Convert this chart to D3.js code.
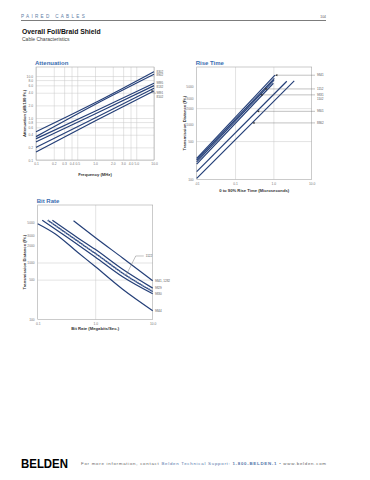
<!DOCTYPE html>
<html>
<head>
<meta charset="utf-8">
<script src="https://cdn.jsdelivr.net/npm/d3@7"></script>
<style>
body { margin: 0; background: #fff; }
text { font-family: "Liberation Sans", Arial, sans-serif; }
.lab text { fill: #777; font-size: 3.3px; }
.lab .domain { display: none; }
.grid line { stroke: #c8c8c8; stroke-width: 0.5; }
.grid .domain { display: none; }
</style>
</head>
<body>
<svg id="page" width="370" height="480"></svg>
<script>
// ---- attenuation (dB/100 ft vs MHz)
var attFreq = [0.1, 1, 10];
var attCables = ["8302", "8902", "9895", "8132", "9891", "8102"];
var attValues = [
  [0.47, 2.3, 12.7],
  [0.36, 2.1, 11.0],
  [0.32, 1.45, 6.7],
  [0.27, 1.25, 5.9],
  [0.20, 1.0, 5.1],
  [0.155, 0.85, 4.4]
];
var attXTicks = [0.1, 0.2, 0.3, 0.4, 0.5, 1, 2, 3, 4, 5, 10];
var attYTicks = [0.1, 0.2, 0.4, 0.6, 0.8, 1, 2, 4, 6, 8, 10];

// ---- rise time (ft vs microseconds), straight lines on log-log
var riseCables = ["9841", "1152", "9831", "1102", "9801", "8862"];
var riseTime = [[0.01, 1.1], [0.01, 1.06], [0.01, 1.04], [0.01, 1.0], [0.01, 2.24], [0.01, 3.5]];
var riseDist = [[242, 8000], [225, 7000], [209, 6500], [190, 5700], [138, 6200], [104, 6300]];
var riseLabelLines = [0, 1, 2, 4, 5];      // line each leader points at
var riseLabelTexts = ["9841", "1152", "9831\n1102", "9801", "8862"];
var riseAnchorT = [1.1, 0.58, 0.45, 0.37, 0.28];
var riseXTicks = [0.01, 0.1, 1, 10];
var riseYTicks = [100, 500, 1000, 2000, 3000, 5000];

// ---- bit rate (ft vs Mbit/s)
var bitCables = ["9841, 1282", "9829", "1122", "9830", "9844"];
var bitRate = [
  [0.42, 1, 3, 10],
  [0.18, 0.5, 1, 3, 10],
  [0.15, 0.5, 1, 3, 10],
  [0.12, 0.5, 1, 3, 10],
  [0.1, 0.2, 0.5, 1, 3, 10]
];
var bitDist = [
  [5400, 2750, 1200, 480],
  [5500, 2700, 1700, 760, 355],
  [5500, 2350, 1450, 650, 310],
  [5500, 2050, 1250, 560, 282],
  [4800, 3200, 1500, 850, 340, 143]
];
var bitXTicks = [0.1, 1, 10];
var bitYTicks = [100, 500, 1000, 2000, 3000, 5000];

var navy = "#243f78";
var svg = d3.select("#page");

// header
svg.append("text").attr("x", 21).attr("y", 17.5).text("PAIRED CABLES")
  .style("font-size", "4.6px").style("letter-spacing", "2.3px").attr("fill", "#5d7ea6");
svg.append("text").attr("x", 326).attr("y", 17.5).attr("text-anchor", "end").text("104")
  .style("font-size", "3.4px").attr("fill", "#555");
svg.append("line").attr("x1", 21).attr("x2", 326).attr("y1", 20.5).attr("y2", 20.5)
  .attr("stroke", "#444").attr("stroke-width", 0.7);
svg.append("text").attr("x", 22).attr("y", 34).text("Overall Foil/Braid Shield")
  .style("font-size", "6.8px").style("font-weight", "bold").attr("fill", "#111");
svg.append("text").attr("x", 22).attr("y", 41).text("Cable Characteristics")
  .style("font-size", "5px").attr("fill", "#444");

function panel(o) {
  var g = svg.append("g");
  var x = d3.scaleLog().domain(o.xDomain).range([o.left, o.right]);
  var y = d3.scaleLog().domain(o.yDomain).range([o.bottom, o.top]);

  g.append("g").attr("class", "grid").attr("transform", "translate(0," + o.bottom + ")")
    .call(d3.axisBottom(x).tickValues(o.xGrid).tickSize(o.top - o.bottom).tickFormat(""));
  g.append("g").attr("class", "grid").attr("transform", "translate(" + o.left + ",0)")
    .call(d3.axisLeft(y).tickValues(o.yGrid).tickSize(o.left - o.right).tickFormat(""));
  g.append("rect").attr("x", o.left).attr("y", o.top)
    .attr("width", o.right - o.left).attr("height", o.bottom - o.top)
    .attr("fill", "none").attr("stroke", "#a8a8a8").attr("stroke-width", 0.6);

  g.append("g").attr("class", "lab").attr("transform", "translate(0," + o.bottom + ")")
    .call(d3.axisBottom(x).tickValues(o.xTicks).tickFormat(o.xFmt).tickSize(0).tickPadding(3));
  g.append("g").attr("class", "lab").attr("transform", "translate(" + o.left + ",0)")
    .call(d3.axisLeft(y).tickValues(o.yTicks).tickFormat(o.yFmt).tickSize(0).tickPadding(3));

  g.append("text").attr("x", o.left - 1).attr("y", o.top - 2.5).text(o.title)
    .style("font-size", "6px").style("font-weight", "bold").attr("fill", "#3a6db0");
  g.append("text").attr("x", (o.left + o.right) / 2).attr("y", o.bottom + o.xTitleDy)
    .attr("text-anchor", "middle").text(o.xTitle)
    .style("font-size", "4.2px").style("font-weight", "bold").attr("fill", "#333");
  g.append("text")
    .attr("transform", "translate(" + (o.left - o.yTitleDx) + "," + (o.top + o.bottom) / 2 + ") rotate(-90)")
    .attr("text-anchor", "middle").text(o.yTitle)
    .style("font-size", "4.2px").style("font-weight", "bold").attr("fill", "#333");
  return { g: g, x: x, y: y, o: o };
}

// ---------- Attenuation
var att = panel({
  left: 36, right: 154, top: 67, bottom: 160,
  xDomain: [0.1, 10], yDomain: [0.1, 16.4],
  xGrid: attXTicks, yGrid: attYTicks, xTicks: attXTicks, yTicks: attYTicks,
  xFmt: d3.format(".1f"), yFmt: d3.format(".1f"),
  title: "Attenuation", xTitle: "Frequency (MHz)", yTitle: "Attenuation (dB/100 Ft.)",
  xTitleDy: 16, yTitleDx: 10
});
var attLine = d3.line()
  .x(function(d, i) { return att.x(attFreq[i]); })
  .y(function(d) { return att.y(d); })
  .curve(d3.curveMonotoneX);
att.g.selectAll(".att").data(attValues).enter().append("path")
  .attr("d", attLine).attr("fill", "none").attr("stroke", navy).attr("stroke-width", 1.2);

// right-hand labels, pushed apart so they never collide
var attLabY = attValues.map(function(d, i) { return att.y(d[2]) + (i < 4 ? 1 : 6); });
for (var i = 1; i < attLabY.length; i++) attLabY[i] = Math.max(attLabY[i], attLabY[i - 1] + 3.4);
att.g.selectAll(".attlab").data(attCables).enter().append("text")
  .attr("x", 156.5)
  .attr("y", function(d, i) { return attLabY[i]; })
  .text(function(d) { return d; })
  .style("font-size", "3px").attr("fill", "#555");
// leader arrow for the two lowest cables
var ay = attLabY[4] - 1, ty = att.y(4.9);
att.g.append("path")
  .attr("d", "M156," + ay + " Q151," + (ay - 0.5) + " " + att.x(9.2) + "," + (ty + 1.2))
  .attr("fill", "none").attr("stroke", "#555").attr("stroke-width", 0.4);
att.g.append("path")
  .attr("d", "M" + att.x(9.2) + "," + (ty + 0.6) + " l-0.6,2.2 l1.8,-0.9 z").attr("fill", "#333");

// ---------- Rise time
var rise = panel({
  left: 196.7, right: 311.7, top: 67, bottom: 179.3,
  xDomain: [0.01, 10], yDomain: [100, 11300],
  xGrid: [0.1, 1], yGrid: [500, 2000], xTicks: riseXTicks, yTicks: riseYTicks,
  xFmt: function(d) { return d === 0.01 ? ".01" : d3.format(".1f")(d); }, yFmt: d3.format("d"),
  title: "Rise Time", xTitle: "0 to 90% Rise Time (Microseconds)", yTitle: "Transmission Distance (Ft.)",
  xTitleDy: 13, yTitleDx: 10.5
});
rise.g.selectAll(".rl").data(riseDist).enter().append("line")
  .attr("x1", function(d, i) { return rise.x(riseTime[i][0]); })
  .attr("x2", function(d, i) { return rise.x(riseTime[i][1]); })
  .attr("y1", function(d) { return rise.y(d[0]); })
  .attr("y2", function(d) { return rise.y(d[1]); })
  .attr("stroke", navy).attr("stroke-width", 1.2);

function riseAt(li, t) {
  var t0 = Math.log10(riseTime[li][0]), t1 = Math.log10(riseTime[li][1]);
  var d0 = Math.log10(riseDist[li][0]), d1 = Math.log10(riseDist[li][1]);
  return Math.pow(10, d0 + (Math.log10(t) - t0) / (t1 - t0) * (d1 - d0));
}
riseLabelLines.forEach(function(li, k) {
  var px = rise.x(riseAnchorT[k]), py = rise.y(riseAt(li, riseAnchorT[k]));
  rise.g.append("line").attr("x1", px + 1).attr("x2", 315).attr("y1", py).attr("y2", py)
    .attr("stroke", "#666").attr("stroke-width", 0.4);
  rise.g.append("path")
    .attr("d", "M" + px + "," + py + " l2.4,-1.1 l0,2.2 z").attr("fill", "#333");
  riseLabelTexts[k].split("\n").forEach(function(s, j) {
    rise.g.append("text").attr("x", 317).attr("y", py + 1.1 + j * 3.8).text(s)
      .style("font-size", "3px").attr("fill", "#555");
  });
});

// ---------- Bit rate
var bit = panel({
  left: 37.7, right: 152.7, top: 205, bottom: 319.5,
  xDomain: [0.1, 10], yDomain: [100, 10200],
  xGrid: [1], yGrid: [500, 1000], xTicks: bitXTicks, yTicks: bitYTicks,
  xFmt: d3.format(".1f"), yFmt: d3.format("d"),
  title: "Bit Rate", xTitle: "Bit Rate (Megabits/Sec.)", yTitle: "Transmission Distance (Ft.)",
  xTitleDy: 10.5, yTitleDx: 12
});
var bitLine = d3.line()
  .x(function(d) { return bit.x(d[0]); })
  .y(function(d) { return bit.y(d[1]); })
  .curve(d3.curveMonotoneX);
var bitPts = bitRate.map(function(r, i) { return r.map(function(v, j) { return [v, bitDist[i][j]]; }); });
bit.g.selectAll(".bl").data(bitPts).enter().append("path")
  .attr("d", bitLine).attr("fill", "none").attr("stroke", navy).attr("stroke-width", 1.2);
// the dashed cable with cross marks
bit.g.append("path").datum(bitPts[2]).attr("d", bitLine).attr("fill", "none")
  .attr("stroke", "#6f86b3").attr("stroke-width", 2).attr("stroke-dasharray", "0.8,1.8");
bit.g.selectAll(".bitlab").data(bitPts).enter().filter(function(d, i) { return i !== 2; })
  .append("text").attr("x", 155)
  .attr("y", function(d) { return bit.y(d[d.length - 1][1]) + 1.1; })
  .text(function(d) { return bitCables[bitPts.indexOf(d)]; })
  .style("font-size", "3px").attr("fill", "#555");
// leader for 1122
var lx = bit.x(3.4), ly = bit.y(580);
bit.g.append("path").attr("d", "M" + lx + "," + ly + " L" + (lx + 10) + "," + (ly - 20) + " L" + (lx + 18) + "," + (ly - 20))
  .attr("fill", "none").attr("stroke", "#666").attr("stroke-width", 0.4);
bit.g.append("text").attr("x", lx + 20).attr("y", ly - 18.9).text(bitCables[2])
  .style("font-size", "3px").attr("fill", "#555");

// footer
svg.append("text").attr("x", 21).attr("y", 467.5).text("BELDEN")
  .attr("textLength", 47).attr("lengthAdjust", "spacingAndGlyphs")
  .style("font-size", "12px").style("font-weight", "900");
var foot = svg.append("text").attr("x", 81).attr("y", 465).attr("textLength", 245)
  .style("font-size", "4.4px").attr("fill", "#666");
foot.append("tspan").text("For more information, contact ");
foot.append("tspan").attr("fill", "#5577aa").text("Belden Technical Support: ");
foot.append("tspan").attr("fill", "#5577aa").style("font-weight", "bold").text("1-800-BELDEN-1");
foot.append("tspan").text(" \u2022 www.belden.com");
</script>
</body>
</html>
